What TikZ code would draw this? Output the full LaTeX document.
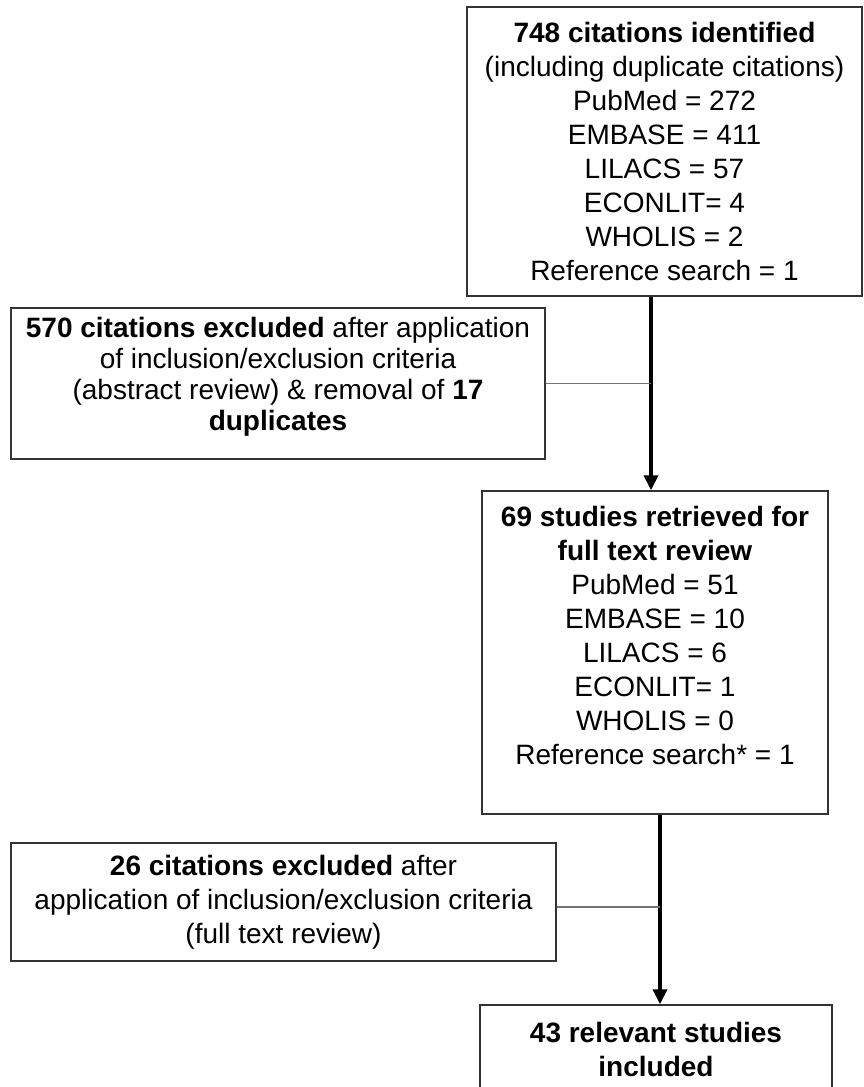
\documentclass[tikz,border=0pt]{standalone}
\usepackage{fontspec}
\setmainfont{Liberation Sans}
\usetikzlibrary{arrows.meta}
\begin{document}
\begin{tikzpicture}[x=1pt,y=-1pt,
  box/.style={draw=black!80, line width=1.4pt, align=center, inner sep=0pt,
    font=\fontsize{28}{34}\selectfont},
  flow/.style={line width=4pt, -{Triangle[length=15pt,width=14pt]}},
  side/.style={draw=black!55, line width=1.4pt}]
\useasboundingbox (0,0) rectangle (863,1087);
% boxes
\node[box, minimum width=395pt, minimum height=289pt] (found) at (664.5,151.5)
  {\textbf{748 citations identified}\\(including duplicate citations)\\PubMed = 272\\EMBASE = 411\\LILACS = 57\\ECONLIT= 4\\WHOLIS = 2\\Reference search = 1};
\node[box, minimum width=534pt, minimum height=151pt, font=\fontsize{28}{31}\selectfont] (abstractout) at (278,383.5)
  {\textbf{570 citations excluded} after application\\of inclusion/exclusion criteria\\(abstract review) \& removal of \textbf{17}\\\textbf{duplicates}\\[-11pt]~};
\node[box, minimum width=346pt, minimum height=323pt] (retrieved) at (655,652.5)
  {\textbf{69 studies retrieved for}\\\textbf{full text review}\\PubMed = 51\\EMBASE = 10\\LILACS = 6\\ECONLIT= 1\\WHOLIS = 0\\Reference search* = 1\\~};
\node[box, minimum width=545pt, minimum height=118pt] (fulltextout) at (283.5,902)
  {\textbf{26 citations excluded} after\\application of inclusion/exclusion criteria\\(full text review)};
\node[box, minimum width=352pt, minimum height=88pt] (included) at (656,1049)
  {\textbf{43 relevant studies}\\\textbf{included}};
% flow
\coordinate (topjoin) at ([xshift=-4pt]retrieved.north);
\coordinate (lowjoin) at ([xshift=5pt]retrieved.south);
\draw[flow] (topjoin |- found.south) -- (topjoin);
\draw[flow] (lowjoin) -- (lowjoin |- included.north);
\draw[side] (abstractout.east) -- (abstractout.east -| topjoin);
\draw[side] ([yshift=-5pt]fulltextout.east) -- ([yshift=-5pt]fulltextout.east -| lowjoin);
\end{tikzpicture}
\end{document}
